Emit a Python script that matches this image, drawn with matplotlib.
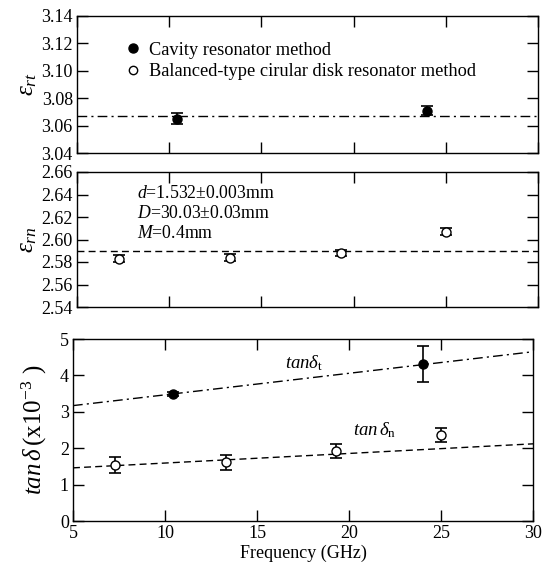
import matplotlib
matplotlib.use("Agg")
import matplotlib.pyplot as plt
from matplotlib.lines import Line2D

plt.rcParams['font.family'] = ['Liberation Serif', 'DejaVu Serif']
plt.rcParams['mathtext.fontset'] = 'custom'
plt.rcParams['mathtext.rm'] = 'Liberation Serif'
plt.rcParams['mathtext.it'] = 'Liberation Serif:italic'

# ---- data ----
cav_freq = [10.45, 24.0]
cav_ert = [3.065, 3.071]
cav_ert_err = [0.004, 0.003]
ert_fit = [3.067, 3.067]

bal_freq = [7.3, 13.3, 19.3, 25.0]
bal_ern = [2.583, 2.584, 2.588, 2.607]
bal_ern_err = [0.003, 0.003, 0.003, 0.003]
ern_fit = [2.590, 2.590]

cav_tan = [3.49, 4.31]
cav_tan_err = [0.06, 0.5]
bal_tan = [1.54, 1.61, 1.92, 2.37]
bal_tan_err = [0.21, 0.2, 0.2, 0.19]

fit_x = [5, 30]
tant_fit = [3.17, 4.65]
tann_fit = [1.46, 2.12]

xticks = [5, 10, 15, 20, 25, 30]
ert_ticks = [3.04, 3.06, 3.08, 3.10, 3.12, 3.14]
ern_ticks = [2.54, 2.56, 2.58, 2.60, 2.62, 2.64, 2.66]
tan_ticks = [0, 1, 2, 3, 4, 5]

W_PX, H_PX = 551, 571
fig = plt.figure(figsize=(W_PX/100, H_PX/100), dpi=100)

def box(l, r, t, b):
    return [l/W_PX, 1-b/H_PX, (r-l)/W_PX, (b-t)/H_PX]

ax1 = fig.add_axes(box(77, 538, 16, 153))
ax2 = fig.add_axes(box(77, 538, 172, 307))
ax3 = fig.add_axes(box(73, 533, 339, 521))

def style(ax, labels=True):
    ax.set_xlim(5, 30)
    ax.set_xticks(xticks)
    ax.tick_params(direction='in', top=True, right=True, length=8, width=1,
                   labelsize=13, pad=3)
    if not labels:
        ax.set_xticklabels([])
    for s in ax.spines.values():
        s.set_linewidth(1)

# top
style(ax1, labels=False)
ax1.plot(fit_x, ert_fit, color='k', lw=1, ls=(0, (7, 3, 1.5, 3)))
ax1.errorbar(cav_freq, cav_ert, yerr=cav_ert_err, fmt='o', color='k',
             ms=6.5, capsize=4, elinewidth=1.2, capthick=1.2)
ax1.set_ylim(3.04, 3.14)
ax1.set_yticks(ert_ticks)
ax1.set_yticklabels([f"{v:.2f}" for v in ert_ticks])
ax1.set_ylabel(r'$\varepsilon_{rt}$', fontsize=18, labelpad=2)
h1 = Line2D([], [], marker='o', ls='none', color='k', ms=6.5)
h2 = Line2D([], [], marker='o', ls='none', mfc='white', mec='k', ms=6)
ax1.legend([h1, h2], ['Cavity resonator method',
                      'Balanced-type cirular disk resonator method'],
           loc='upper left', bbox_to_anchor=(0.085, 0.88), frameon=False,
           fontsize=13.2, handlelength=0.8, handletextpad=0.5,
           borderpad=0, labelspacing=0.25)

# middle
style(ax2, labels=False)
ax2.plot(fit_x, ern_fit, color='k', lw=1, ls=(0, (5, 3)))
ax2.errorbar(bal_freq, bal_ern, yerr=bal_ern_err, fmt='o', color='k',
             mfc='white', ms=6.5, capsize=4, elinewidth=1.2, capthick=1.2)
ax2.set_ylim(2.54, 2.66)
ax2.set_yticks(ern_ticks)
ax2.set_yticklabels([f"{v:.2f}" for v in ern_ticks])
ax2.set_ylabel(r'$\varepsilon_{rn}$', fontsize=18, labelpad=2)
tx = 0.131
ax2.text(tx, 0.844, r'$d$=1.532$\pm$0.003mm', transform=ax2.transAxes,
         fontsize=12.8, va='center')
ax2.text(tx, 0.696, r'$D$=30.03$\pm$0.03mm', transform=ax2.transAxes,
         fontsize=12.8, va='center')
ax2.text(tx, 0.548, r'$M$=0.4mm', transform=ax2.transAxes,
         fontsize=12.8, va='center')

# bottom
style(ax3)
ax3.plot(fit_x, tant_fit, color='k', lw=1, ls=(0, (7, 3, 1.5, 3)))
ax3.plot(fit_x, tann_fit, color='k', lw=1, ls=(0, (5, 3)))
ax3.errorbar(cav_freq, cav_tan, yerr=cav_tan_err, fmt='o', color='k',
             ms=6.5, capsize=4, elinewidth=1.2, capthick=1.2)
ax3.errorbar(bal_freq, bal_tan, yerr=bal_tan_err, fmt='o', color='k',
             mfc='white', ms=6.5, capsize=4, elinewidth=1.2, capthick=1.2)
ax3.set_ylim(0, 5)
ax3.set_yticks(tan_ticks)
ax3.set_ylabel(r'$tan\,\delta\,$(x10$^{-3}$ )', fontsize=18, labelpad=8)
ax3.set_xlabel('Frequency (GHz)', fontsize=13, labelpad=2)
ax3.text(16.5, 4.2, r'$tan\delta_{\rm t}$', fontsize=13.5)
ax3.text(20.2, 2.36, r'$tan\,\delta_{\rm n}$', fontsize=13.5)

fig.savefig('out.png', dpi=100)
